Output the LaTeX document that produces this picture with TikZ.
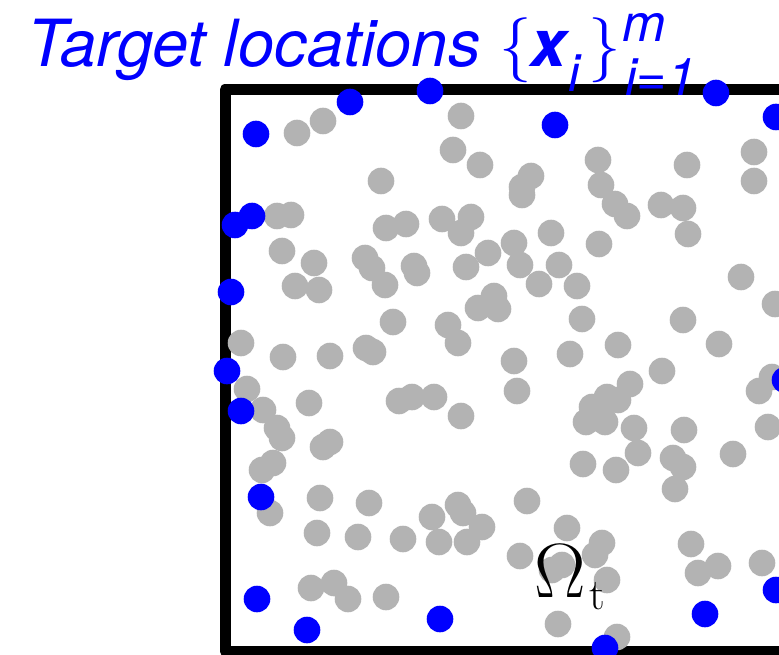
\RequirePackage{fix-cm}
\documentclass[tikz,border=0pt]{standalone}
\usepackage{amsmath}
\usepackage[no-math]{fontspec}
\setmainfont{TeX Gyre Heros}
\definecolor{dotgray}{RGB}{179,179,179}
\definecolor{dotblue}{RGB}{0,0,255}
\begin{document}
\begin{tikzpicture}[x=1pt,y=-1pt,
  graydot/.style={fill=dotgray},
  bluedot/.style={fill=dotblue},
  frame/.style={line width=11pt,line join=round},
  ttl/.style={anchor=base west,inner sep=0pt,text=dotblue,font=\fontsize{65}{70}\selectfont\itshape},
  ttlsc/.style={anchor=base west,inner sep=0pt,text=dotblue,font=\fontsize{52}{55}\selectfont\itshape},
  lbl/.style={anchor=base west,inner sep=0pt,text=black}]
\useasboundingbox (0,0) rectangle (779,655);
\clip (0,0) rectangle (779,655);
\draw[frame] (950,89.5) -- (225,89.5) -- (225,651) -- (950,651);
\foreach \x/\y in {297/133,323/121,461/116,453/150,480/165,381/181,598/160,601/185,615/204,627/216,
687/165,754/152,754/181,661/205,683/208,688/234,741/277,531/176,522/187,522/195,277/216,291/215,
442/219,471/217,461/233,514/243,551/233,599/244,488/253,520/265,466/267,559/265,539/284,577/286,
282/251,314/263,386/228,406/224,365/258,372/268,295/286,319/290,385/285,414/266,417/273,
393/322,478/308,494/296,498/309,448/325,458/343,582/319,570/354,514/361,517/391,434/397,461/416,
399/401,412/397,366/348,373/352,330/356,283/357,241/343,247/389,263/410,309/403,277/428,282/438,
323/447,330/442,262/470,273/463,775/304,683/320,719/344,618/345,662/371,630/384,618/400,605/422,
592/407,586/422,607/397,634/428,684/430,638/453,673/458,683/467,675/489,733/454,759/391,772/377,
768/427,616/470,583/464,270/513,320/498,369/503,317/533,358/537,403/539,311/588,334/583,348/599,
386/597,432/517,458/505,463/513,482/527,439/542,467/542,527/501,567/528,520/556,552/570,562/565,
602/543,595/555,607/580,558/624,617/637,691/544,698/573,718/566,762/563}
  \fill[graydot] (\x,\y) circle (13.3);
\foreach \x/\y in {256/134,350/102,430/91,555/125,716/93,776/117,252/216,235/225,231/292,227/371,
241/411,261/497,257/599,307/630,440/619,605/648,705/614,776/590,785/380}
  \fill[bluedot] (\x,\y) circle (13.3);
% title
\node[ttl] (title) at (27,67) {Target locations};
\node[ttl,font=\fontsize{65}{70}\selectfont] (lbrace) at (499,67) {$\{$};
\node[ttl,font=\fontsize{65}{70}\selectfont\bfseries\itshape] (xbold) at (530,67) {x};
\node[ttlsc] (xsub) at (568,92) {i};
\node[ttl,font=\fontsize{65}{70}\selectfont] (rbrace) at (588,67) {$\}$};
\node[ttlsc] (supm) at (622,42) {m};
\node[ttlsc] (subi) at (625,96) {i=1};
% domain label
\node[lbl] (omega) at (534,597) {\fontsize{77}{80}\selectfont$\Omega$};
\node[lbl] (omsub) at (589,609) {\fontsize{44}{46}\selectfont$\mathrm{t}$};
\end{tikzpicture}
\end{document}
